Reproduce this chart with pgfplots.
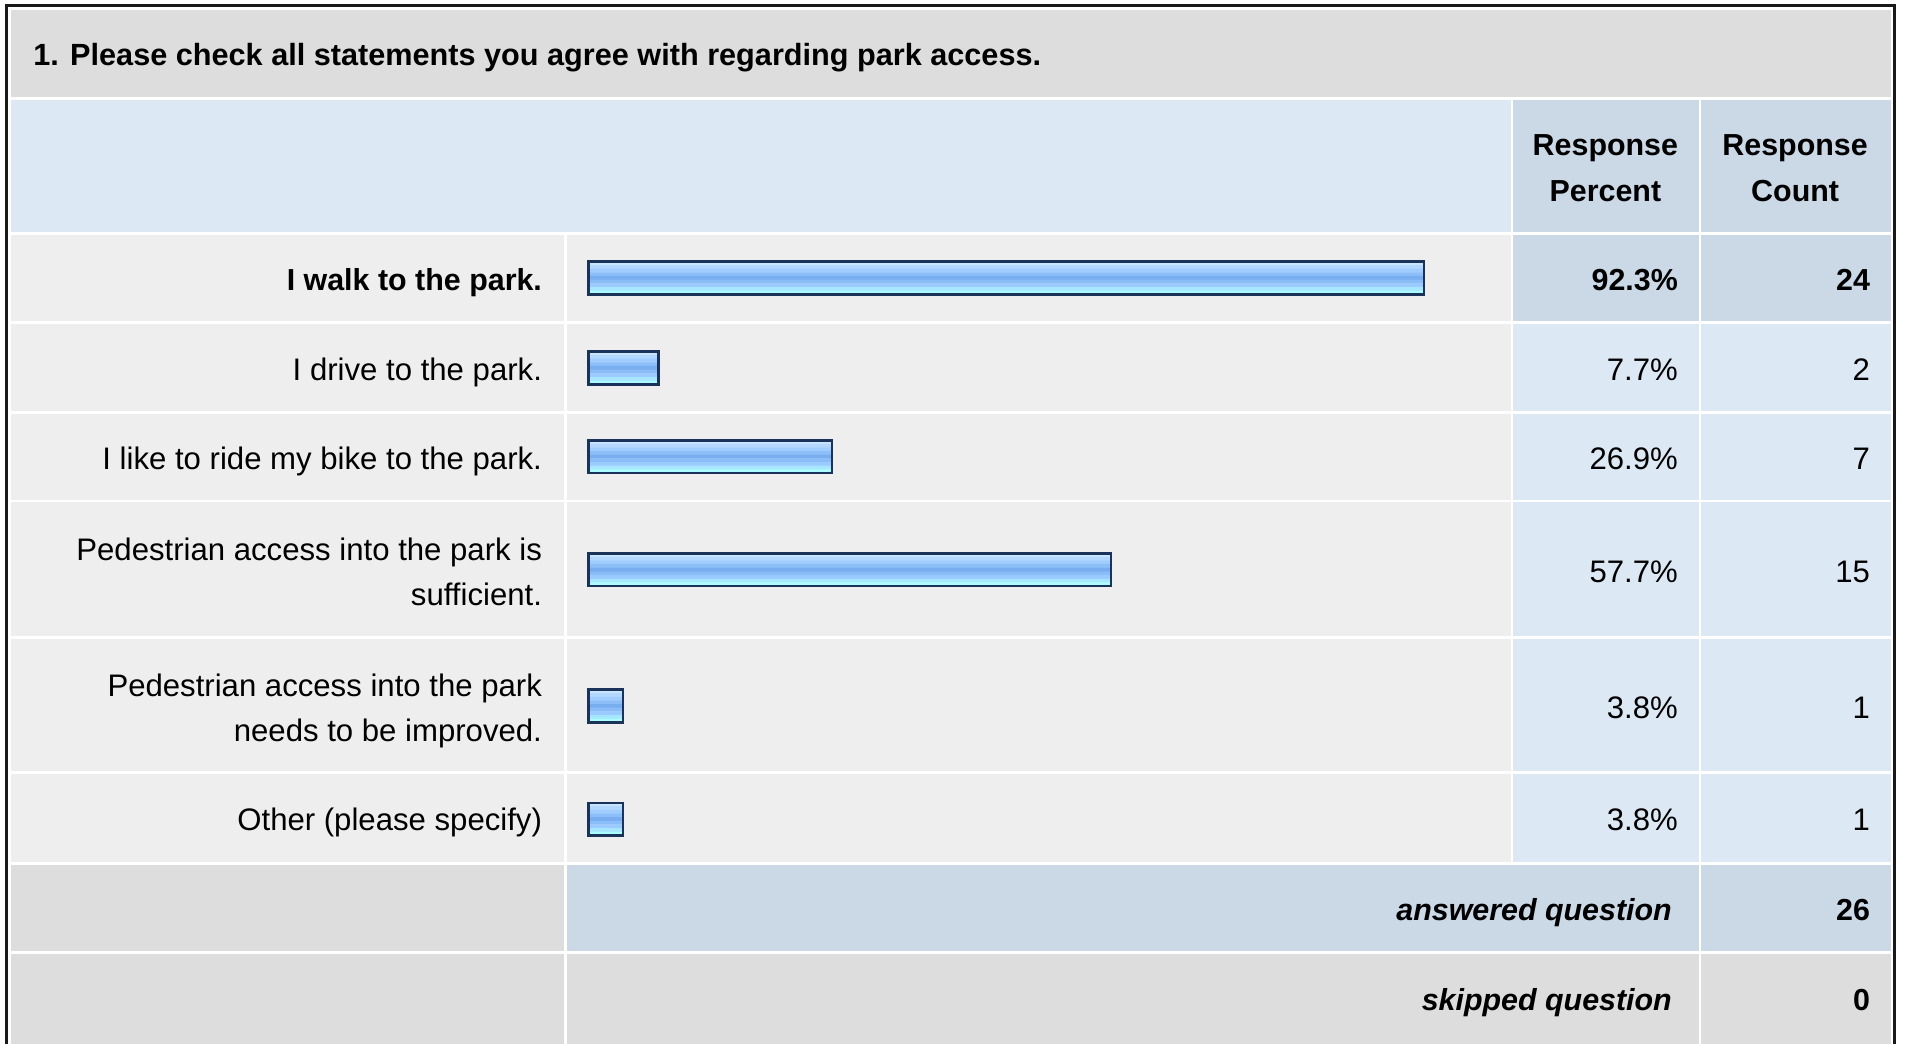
\documentclass[border=0pt]{standalone}
\usepackage{pgfplots}
\usepackage{pgfplotstable}
\pgfplotsset{compat=1.18}
\usepackage{fontspec}
\setmainfont{Liberation Sans}
\definecolor{titlegray}{HTML}{DDDDDD}
\definecolor{headlight}{HTML}{DDE8F5}
\definecolor{headdark}{HTML}{CBD8E6}
\definecolor{rowgray}{HTML}{EEEEEE}
\definecolor{barborder}{HTML}{1B3358}
\definecolor{s1}{HTML}{C8E4FF}
\definecolor{s2}{HTML}{B2D8FF}
\definecolor{s3}{HTML}{A0CCFF}
\definecolor{s4}{HTML}{8CBEF8}
\definecolor{s5}{HTML}{78AEF0}
\definecolor{s6}{HTML}{8ABCF8}
\definecolor{s7}{HTML}{9ACAFF}
\definecolor{s8}{HTML}{A6E6FF}
\definecolor{s9}{HTML}{AAFCFF}
\pgfplotstableread{
pct ypos
92.3 228.5
7.7 302.5
26.9 375.5
57.7 468.5
3.8 580.5
3.8 673.5
}\bardata
\newcommand{\bodyfont}{\fontsize{12.8pt}{15pt}\selectfont}
\newcommand{\boldfont}{\fontsize{12.5pt}{15pt}\selectfont}
\begin{document}
\begin{tikzpicture}
\begin{scope}[x=0.5pt,y=-0.5pt]
\useasboundingbox (0,0) rectangle (1568,858);
\fill[white] (0,0) rectangle (1568,858);
% title band
\fill[titlegray] (9,8) rectangle (1555,80);
% header
\fill[headlight] (9,82) rectangle (1242,191);
\fill[headdark] (1244,82) rectangle (1397,191);
\fill[headdark] (1399,82) rectangle (1555,191);
% data rows
\foreach \ya/\yb/\cc in {193/264/headdark,266/338/headlight,340/411/headlight,413/523/headlight,525/634/headlight,636/709/headlight}{
  \fill[rowgray] (9,\ya) rectangle (464,\yb);
  \fill[rowgray] (466,\ya) rectangle (1242,\yb);
  \fill[\cc] (1244,\ya) rectangle (1397,\yb);
  \fill[\cc] (1399,\ya) rectangle (1555,\yb);
}
% answered
\fill[titlegray] (9,711) rectangle (464,782);
\fill[headdark] (466,711) rectangle (1397,782);
\fill[headdark] (1399,711) rectangle (1555,782);
% skipped
\fill[titlegray] (9,784) rectangle (464,860);
\fill[titlegray] (466,784) rectangle (1397,860);
\fill[titlegray] (1399,784) rectangle (1555,860);
% frame
\draw[black!90, line width=1.25pt] (5.5,870) -- (5.5,4.5) -- (1557.5,4.5) -- (1557.5,870);
% texts
\node[anchor=base west, inner sep=0pt, font=\bfseries\fontsize{12.6pt}{14pt}\selectfont] at (27,54) {1. Please check all statements you agree with regarding park access.};
\node[anchor=base, inner sep=0pt, font=\bfseries\boldfont] at (1320,128) {Response};
\node[anchor=base, inner sep=0pt, font=\bfseries\boldfont] at (1320,166) {Percent};
\node[anchor=base, inner sep=0pt, font=\bfseries\boldfont] at (1476,128) {Response};
\node[anchor=base, inner sep=0pt, font=\bfseries\boldfont] at (1476,166) {Count};
% row labels
\node[anchor=base east, inner sep=0pt, font=\bfseries\boldfont] at (446,239) {I walk to the park.};
\node[anchor=base east, inner sep=0pt, font=\bodyfont] at (446,313) {I drive to the park.};
\node[anchor=base east, inner sep=0pt, font=\bodyfont] at (446,386) {I like to ride my bike to the park.};
\node[anchor=base east, inner sep=0pt, font=\bodyfont] at (446,461) {Pedestrian access into the park is};
\node[anchor=base east, inner sep=0pt, font=\bodyfont] at (446,498) {sufficient.};
\node[anchor=base east, inner sep=0pt, font=\bodyfont] at (446,573) {Pedestrian access into the park};
\node[anchor=base east, inner sep=0pt, font=\bodyfont] at (446,610) {needs to be improved.};
\node[anchor=base east, inner sep=0pt, font=\bodyfont] at (446,683) {Other (please specify)};
% percents
\node[anchor=base east, inner sep=0pt, font=\bfseries\boldfont] at (1380,239) {92.3\%};
\node[anchor=base east, inner sep=0pt, font=\bodyfont] at (1380,313) {7.7\%};
\node[anchor=base east, inner sep=0pt, font=\bodyfont] at (1380,386) {26.9\%};
\node[anchor=base east, inner sep=0pt, font=\bodyfont] at (1380,479) {57.7\%};
\node[anchor=base east, inner sep=0pt, font=\bodyfont] at (1380,591) {3.8\%};
\node[anchor=base east, inner sep=0pt, font=\bodyfont] at (1380,683) {3.8\%};
% counts
\node[anchor=base east, inner sep=0pt, font=\bfseries\boldfont] at (1538,239) {24};
\node[anchor=base east, inner sep=0pt, font=\bodyfont] at (1538,313) {2};
\node[anchor=base east, inner sep=0pt, font=\bodyfont] at (1538,386) {7};
\node[anchor=base east, inner sep=0pt, font=\bodyfont] at (1538,479) {15};
\node[anchor=base east, inner sep=0pt, font=\bodyfont] at (1538,591) {1};
\node[anchor=base east, inner sep=0pt, font=\bodyfont] at (1538,683) {1};
% summary
\node[anchor=base east, inner sep=0pt, font=\bfseries\itshape\boldfont] at (1375,757) {answered question};
\node[anchor=base east, inner sep=0pt, font=\bfseries\boldfont] at (1538,757) {26};
\node[anchor=base east, inner sep=0pt, font=\bfseries\itshape\boldfont] at (1375,831) {skipped question};
\node[anchor=base east, inner sep=0pt, font=\bfseries\boldfont] at (1538,831) {0};
\end{scope}
\begin{axis}[at={(0,0)}, anchor=north west, scale only axis, width=784pt, height=429pt,
  hide axis, xmin=-65.03, xmax=145.64, ymin=0, ymax=858, y dir=reverse, clip=false]
\addplot[xbar, bar width=3.2, bar shift=-12, draw=none, fill=s1] table[x=pct, y=ypos] {\bardata};
\addplot[xbar, bar width=3.2, bar shift=-9, draw=none, fill=s2] table[x=pct, y=ypos] {\bardata};
\addplot[xbar, bar width=3.2, bar shift=-6, draw=none, fill=s3] table[x=pct, y=ypos] {\bardata};
\addplot[xbar, bar width=3.2, bar shift=-3, draw=none, fill=s4] table[x=pct, y=ypos] {\bardata};
\addplot[xbar, bar width=3.2, bar shift=0, draw=none, fill=s5] table[x=pct, y=ypos] {\bardata};
\addplot[xbar, bar width=3.2, bar shift=3, draw=none, fill=s6] table[x=pct, y=ypos] {\bardata};
\addplot[xbar, bar width=3.2, bar shift=6, draw=none, fill=s7] table[x=pct, y=ypos] {\bardata};
\addplot[xbar, bar width=3.2, bar shift=9, draw=none, fill=s8] table[x=pct, y=ypos] {\bardata};
\addplot[xbar, bar width=3.2, bar shift=12, draw=none, fill=s9] table[x=pct, y=ypos] {\bardata};
\addplot[xbar, bar width=27, bar shift=0, draw=barborder, line width=1pt, fill=none] table[x=pct, y=ypos] {\bardata};
\end{axis}
\end{tikzpicture}
\end{document}
